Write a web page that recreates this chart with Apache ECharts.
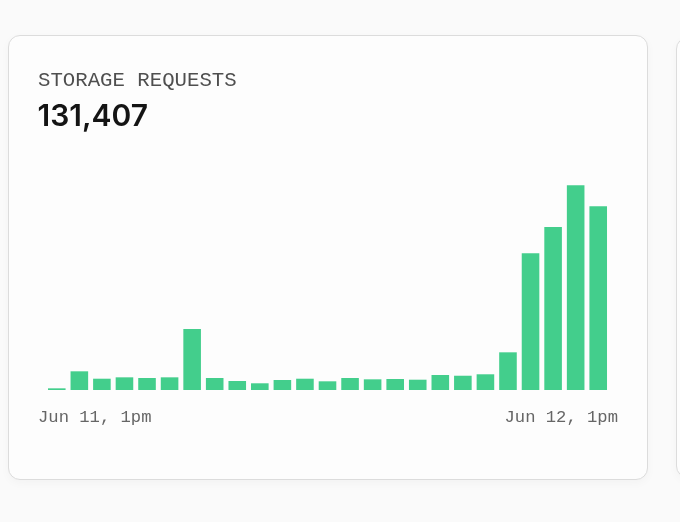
<!DOCTYPE html>
<html>
<head>
<meta charset="utf-8">
<script src="https://cdn.jsdelivr.net/npm/echarts@6/dist/echarts.min.js"></script>
<style>
  html, body { margin: 0; padding: 0; width: 680px; height: 522px; overflow: hidden; background: #fafafa; }
  .card { position: absolute; box-sizing: border-box; border: 1px solid #dcdcdc; border-radius: 12px; background: #fdfdfd; box-shadow: 0 3px 10px rgba(0,0,0,0.03); }
  #card1 { left: 8px; top: 35px; width: 640px; height: 445px; }
  #card2 { left: 676px; top: 37px; width: 300px; height: 441px; }
  #chart { position: absolute; left: 0; top: 0; width: 680px; height: 522px; }
</style>
</head>
<body>
<div class="card" id="card1"></div>
<div class="card" id="card2"></div>
<div id="chart"></div>
<script>
const titleText = 'STORAGE REQUESTS';
const totalText = '131,407';
const categories = ['Jun 11 1pm','2pm','3pm','4pm','5pm','6pm','7pm','8pm','9pm','10pm','11pm','Jun 12 12am','1am','2am','3am','4am','5am','6am','7am','8am','9am','10am','11am','12pm','Jun 12 1pm'];
const requests = [220, 2450, 1480, 1660, 1570, 1660, 8000, 1570, 1180, 880, 1310, 1480, 1140, 1570, 1400, 1440, 1350, 1970, 1870, 2060, 4940, 17920, 21360, 26830, 24097];
const tickLabels = ['Jun 11, 1pm', 'Jun 12, 1pm'];

const monoTitle = '20.7px "Liberation Mono", monospace';
const monoTick = '17.2px "Liberation Mono", monospace';

const chart = echarts.init(document.getElementById('chart'), null, { renderer: 'canvas' });
chart.setOption({
  backgroundColor: 'transparent',
  animation: false,
  grid: { left: 45.5, right: 70.5, top: 185.3, bottom: 132 },
  xAxis: {
    type: 'category',
    data: categories,
    boundaryGap: true,
    axisLine: { show: false },
    axisTick: { show: false },
    axisLabel: { show: false },
    splitLine: { show: false }
  },
  yAxis: {
    type: 'value',
    min: 0,
    max: 'dataMax',
    show: false,
    splitLine: { show: false }
  },
  series: [{
    type: 'bar',
    data: requests,
    barCategoryGap: '22%',
    itemStyle: { color: '#43ce8c' }
  }],
  graphic: [
    { type: 'text', x: 38, y: 80.2, style: { text: titleText, font: monoTitle, fill: '#4f4f4f', textAlign: 'left', textVerticalAlign: 'middle', align: 'left', verticalAlign: 'middle' } },
    { type: 'text', x: 37.5, y: 117.4, style: { text: totalText, font: '600 30px Inter, "Noto Sans", sans-serif', fill: '#141414', textAlign: 'left', textVerticalAlign: 'middle', align: 'left', verticalAlign: 'middle' } },
    { type: 'text', x: 38, y: 417.1, style: { text: tickLabels[0], font: monoTick, fill: '#666666', textAlign: 'left', textVerticalAlign: 'middle', align: 'left', verticalAlign: 'middle' } },
    { type: 'text', x: 618, y: 417.1, style: { text: tickLabels[1], font: monoTick, fill: '#666666', textAlign: 'right', textVerticalAlign: 'middle', align: 'right', verticalAlign: 'middle' } }
  ]
});
</script>
</body>
</html>
